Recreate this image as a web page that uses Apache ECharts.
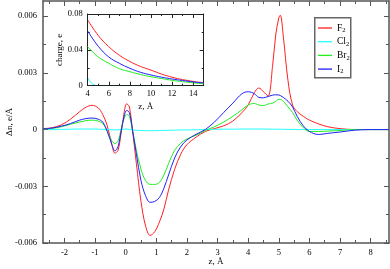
<!DOCTYPE html>
<html><head><meta charset="utf-8">
<script src="https://cdn.jsdelivr.net/npm/echarts@6/dist/echarts.min.js"></script>
<style>html,body{margin:0;padding:0;background:#fff}#c{width:390px;height:269px}</style>
</head><body><div id="c"></div>
<script>
// ---- main panel data: z (Å) and Δn (e/Å) ----
const zMain = [-2.7,-2.4,-2.1,-1.8,-1.5,-1.3,-1.1,-0.9,-0.75,-0.6,-0.45,-0.35,-0.25,-0.15,-0.05,0.03,0.12,0.22,0.35,0.5,0.65,0.8,0.95,1.1,1.25,1.4,1.6,1.8,2.0,2.3,2.6,2.9,3.2,3.5,3.8,4.0,4.2,4.35,4.5,4.65,4.8,4.9,5.0,5.05,5.15,5.3,5.45,5.6,5.8,6.0,6.3,6.6,7.0,7.5,8.0,8.6];
const f2Dn  = [0.00005,0.0001,0.00025,0.00055,0.00095,0.00118,0.00128,0.00115,0.0008,0.0002,-0.0008,-0.00125,-0.0011,-0.0002,0.0009,0.00136,0.0012,0.0,-0.0018,-0.0038,-0.0051,-0.0056,-0.0054,-0.0049,-0.0042,-0.0032,-0.0021,-0.0013,-0.0008,-0.0004,-0.0001,0.00005,0.0002,0.00045,0.0009,0.0013,0.00195,0.0022,0.002,0.00178,0.0034,0.005,0.0059,0.00605,0.0049,0.0026,0.0013,0.00095,0.0007,0.0005,0.0003,0.00015,0.00005,0.0,0.0,0.0];
const cl2Dn = [0,0,0.00001,0.00002,0.00003,0.00003,0.00003,0.00002,0.00001,0,-0.00001,-0.00002,-0.00001,0,0.00002,0.00003,0.00001,-0.00002,-0.00004,-0.00005,-0.00006,-0.00006,-0.00006,-0.00005,-0.00004,-0.00004,-0.00003,-0.00002,-0.00002,-0.00001,0,0.00001,0.00002,0.00002,0.00003,0.00003,0.00003,0.00003,0.00003,0.00002,0.00002,0.00002,0.00002,0.00002,0.00001,0.00001,0.00001,0,0,0,0,0,0,0,0,0];
const br2Dn = [0.00002,0.00006,0.00015,0.00028,0.0004,0.00047,0.0005,0.00045,0.00032,-0.0001,-0.0006,-0.00075,-0.0006,0.0,0.0006,0.00079,0.0007,0.0,-0.0011,-0.0021,-0.0027,-0.0029,-0.0029,-0.0028,-0.0024,-0.0018,-0.0011,-0.00072,-0.0005,-0.0003,-0.00005,0.00015,0.0004,0.0007,0.00105,0.0013,0.00138,0.0013,0.00127,0.00135,0.0014,0.0015,0.0016,0.0016,0.0015,0.0012,0.0009,0.0005,0.0001,-0.0001,-0.0001,-0.00008,-0.00005,0.0,0.0,0.0];
const i2Dn  = [0.00003,0.00008,0.00018,0.00032,0.0005,0.00058,0.00061,0.00055,0.0004,-0.0001,-0.0008,-0.00113,-0.0009,-0.0001,0.0007,0.00101,0.0009,0.0,-0.0013,-0.0027,-0.0035,-0.00385,-0.0038,-0.0036,-0.0031,-0.0024,-0.0015,-0.0009,-0.00055,-0.00025,0.0,0.0004,0.0009,0.0014,0.0019,0.002,0.0019,0.0017,0.00168,0.00175,0.00182,0.00184,0.00183,0.0018,0.0017,0.0015,0.0012,0.0007,0.0002,-0.0001,-0.00026,-0.0002,-0.00013,-0.00003,0.0,0.0];

// ---- inset data: z (Å) and charge (e) ----
const zInset = [4,5,6,7,8,9,10,11,12,13,14,15];
const f2Charge = [0.0733,0.056,0.0435,0.034,0.027,0.0215,0.0174,0.013,0.0095,0.0068,0.0048,0.0032];
const i2Charge = [0.061,0.044,0.032,0.025,0.0194,0.015,0.012,0.0095,0.0075,0.0058,0.0042,0.003];
const br2Charge = [0.0435,0.032,0.025,0.019,0.0156,0.0125,0.010,0.008,0.006,0.0045,0.0032,0.0022];
const zInsetCl = [4,4.2,4.5,4.8,5,6,8,10,12,15];
const cl2Charge = [0.009,0.005,0.0015,0.0003,0,0,0,0,0,0];

// ---- ticks ----
const mainXMajor = [-2,-1,0,1,2,3,4,5,6,7,8];
const mainXMinor = [-2.5,-1.5,-0.5,0.5,1.5,2.5,3.5,4.5,5.5,6.5,7.5,8.5];
const mainYMajor = [-0.006,-0.003,0,0.003,0.006];
const mainYMinor = [-0.0045,-0.0015,0.0015,0.0045];
const insetXMajor = [4,6,8,10,12,14];
const insetXMinor = [5,7,9,11,13,15];
const insetYMajor = [0,0.04,0.08];
const insetYMinor = [0.02,0.06];

const names = ['F2','Cl2','Br2','I2'];
const colors = ['#ff2020','#20ffff','#20ee20','#2020ff'];
const FONT = 'Liberation Serif';
const pair = (xs, ys) => xs.map((x,i)=>[x, ys[i]]);

function axisPair(grid, pos, min, max, major, minor, opts) {
  const lineC = opts.lineColor, lw = opts.lineWidth;
  const base = {
    type:'value', gridIndex:grid, position:pos, min:min, max:max, z:5,
    splitLine:{show:false}, axisPointer:{show:false}
  };
  const a = Object.assign({}, base, {
    axisLine:{show:true, onZero:false, lineStyle:{color:lineC, width:lw}},
    axisTick:{show:true, inside:true, length:opts.major, customValues:major, lineStyle:{color:lineC, width:1}},
    axisLabel:{show:!!opts.labels, customValues:major, margin:opts.margin||4, color:'#000', fontFamily:FONT, fontSize:opts.fs||8.5}
  });
  if (opts.name) {
    a.name = opts.name; a.nameLocation='middle'; a.nameGap=opts.nameGap; a.nameMoveOverlap=false;
    a.nameTextStyle={color:'#000', fontFamily:FONT, fontSize:opts.nfs||9};
  }
  const b = Object.assign({}, base, {
    axisLine:{show:false, onZero:false},
    axisTick:{show:true, inside:true, length:opts.minor, customValues:minor, lineStyle:{color:lineC, width:1}},
    axisLabel:{show:false}
  });
  return [a,b];
}

const xAxes = [], yAxes = [];
// main grid 0
xAxes.push(...axisPair(0,'bottom',-2.7,8.6,mainXMajor,mainXMinor,{lineColor:'#555',lineWidth:1.5,major:5,minor:3,labels:true,margin:5,name:'z, Å',nameGap:14}));
xAxes.push(...axisPair(0,'top',-2.7,8.6,mainXMajor,mainXMinor,{lineColor:'#555',lineWidth:1.5,major:5,minor:3}));
yAxes.push(...axisPair(0,'left',-0.006,0.0068,mainYMajor,mainYMinor,{lineColor:'#555',lineWidth:1.5,major:5,minor:3,labels:true,margin:6,name:'Δn, e/Å',nameGap:29}));
yAxes.push(...axisPair(0,'right',-0.006,0.0068,mainYMajor,mainYMinor,{lineColor:'#555',lineWidth:1.5,major:5,minor:3}));
// inset grid 1
xAxes.push(...axisPair(1,'bottom',4,15,insetXMajor,insetXMinor,{lineColor:'#222',lineWidth:1,major:4,minor:2,labels:true,margin:4,name:'z, Å',nameGap:16}));
xAxes.push(...axisPair(1,'top',4,15,insetXMajor,insetXMinor,{lineColor:'#222',lineWidth:1,major:4,minor:2}));
yAxes.push(...axisPair(1,'left',0,0.08,insetYMajor,insetYMinor,{lineColor:'#222',lineWidth:1,major:4,minor:2,labels:true,margin:5,name:'charge, e',nameGap:24}));
yAxes.push(...axisPair(1,'right',0,0.08,insetYMajor,insetYMinor,{lineColor:'#222',lineWidth:1,major:4,minor:2}));

const mainData = [f2Dn, cl2Dn, br2Dn, i2Dn];
const insetX = [zInset, zInsetCl, zInset, zInset];
const insetData = [f2Charge, cl2Charge, br2Charge, i2Charge];
const series = [];
names.forEach((n,i)=>{
  series.push({type:'line', name:n, xAxisIndex:0, yAxisIndex:0, data:pair(zMain, mainData[i]),
    symbol:'none', smooth:0.35, lineStyle:{color:colors[i], width:1}, itemStyle:{color:colors[i]}, z:3+i, animation:false});
});
names.forEach((n,i)=>{
  series.push({type:'line', name:n, xAxisIndex:4, yAxisIndex:4, data:pair(insetX[i], insetData[i]),
    symbol:'none', smooth:0.4, lineStyle:{color:colors[i], width:1}, itemStyle:{color:colors[i]}, z:3+i, animation:false});
});

const chart = echarts.init(document.getElementById('c'), null, {renderer:'canvas'});
chart.setOption({
  animation:false,
  backgroundColor:'#fff',
  grid:[
    {left:43, right:1, top:1, bottom:26, show:false, outerBoundsMode:'none', containLabel:false},
    {left:87.7, top:14, width:116, height:71.7, show:true, backgroundColor:'#fff', borderWidth:0, outerBoundsMode:'none', containLabel:false}
  ],
  graphic:[{type:'rect', left:314, top:17, shape:{width:36, height:60}, z:10,
    style:{fill:'#fff', stroke:'#666', lineWidth:1.5}}],
  xAxis:xAxes,
  yAxis:yAxes,
  legend:{
    data:names.map(n=>({name:n, icon:'rect'})), orient:'vertical', left:314, top:23, z:20,
    itemWidth:14, itemHeight:1.3, itemGap:2.7,
    padding:[0,0,0,4], borderWidth:0,
    formatter: n => '{a|' + n.slice(0,-1) + '}{b|' + n.slice(-1) + '}',
    textStyle:{color:'#000', fontFamily:FONT, fontSize:9.5,
      rich:{a:{fontFamily:FONT, fontSize:9.5, verticalAlign:'middle', lineHeight:12},
            b:{fontFamily:FONT, fontSize:6.5, verticalAlign:'bottom', lineHeight:7}}},
    selectedMode:false
  },
  series:series
});
</script></body></html>
